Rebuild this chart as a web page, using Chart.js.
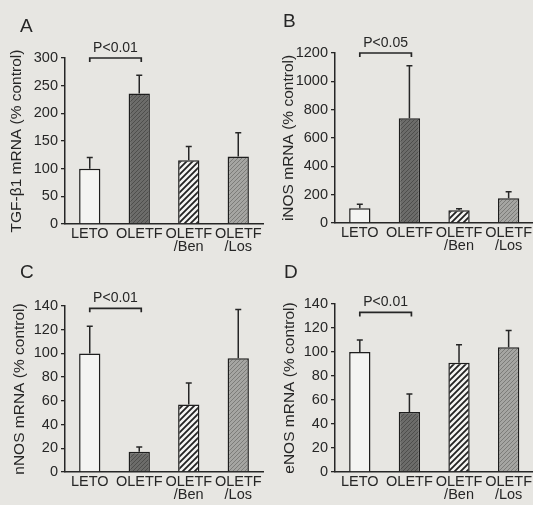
<!DOCTYPE html>
<html>
<head>
<meta charset="utf-8">
<script src="https://cdn.jsdelivr.net/npm/chart.js@4.4.1/dist/chart.umd.min.js"></script>
<style>
  html, body { margin:0; padding:0; background:#e7e6e2; overflow:hidden; }
  #wrap { position:relative; width:533px; height:505px; overflow:hidden; background:#e7e6e2; }
  canvas { position:absolute; }
</style>
</head>
<body>
<div id="wrap">
  <canvas id="cA" width="266" height="252" style="left:0;top:0;width:266px;height:252px"></canvas>
  <canvas id="cB" width="270" height="252" style="left:266px;top:0;width:270px;height:252px"></canvas>
  <canvas id="cC" width="266" height="253" style="left:0;top:252px;width:266px;height:253px"></canvas>
  <canvas id="cD" width="270" height="253" style="left:266px;top:252px;width:270px;height:253px"></canvas>
</div>
<script>
// ---------- data ----------
const categories = ['LETO', 'OLETF', ['OLETF', '/Ben'], ['OLETF', '/Los']];

const tgfMean  = [100, 236, 115, 122];
const tgfSem   = [20, 33, 25, 43];
const inosMean = [105, 740, 90, 175];
const inosSem  = [27, 370, 10, 45];
const nnosMean = [100, 17, 57, 96];
const nnosSem  = [23, 4, 18, 41];
const enosMean = [100, 50, 91, 104];
const enosSem  = [10, 15, 15, 14];

const panelLabels = ['A', 'B', 'C', 'D'];
const yTitles = ['TGF-β1 mRNA (% control)', 'iNOS mRNA (% control)', 'nNOS mRNA (% control)', 'eNOS mRNA (% control)'];
const pTexts = ['P<0.01', 'P<0.05', 'P<0.01', 'P<0.01'];
const yMax = [300, 1200, 140, 140];
const yStep = [50, 200, 20, 20];
const bracketLevel = [300, 1200, 138, 133];

// ---------- styles ----------
const ink = '#262626';
const FONT = "'Liberation Sans', Arial, Helvetica, sans-serif";
Chart.defaults.font.family = FONT;
Chart.defaults.color = ink;

function hatch(bg, line, size, lw) {
  const c = document.createElement('canvas');
  c.width = size; c.height = size;
  const g = c.getContext('2d');
  g.fillStyle = bg; g.fillRect(0, 0, size, size);
  g.strokeStyle = line; g.lineWidth = lw;
  g.beginPath();
  g.moveTo(-1, size + 1); g.lineTo(size + 1, -1);
  g.moveTo(-1, 1); g.lineTo(1, -1);
  g.moveTo(size - 1, size + 1); g.lineTo(size + 1, size - 1);
  g.stroke();
  return g.createPattern(c, 'repeat');
}
const fills = [
  '#f4f4f2',
  hatch('#6c6c6a', '#4e4e4c', 4, 1),
  hatch('#f4f4f2', '#222222', 6, 1.8),
  hatch('#a5a5a2', '#7c7c79', 4, 1)
];

const annot = {
  id: 'annot',
  afterDatasetsDraw(chart, args, o) {
    const ctx = chart.ctx;
    const meta = chart.getDatasetMeta(0);
    const ys = chart.scales.y;
    ctx.save();
    ctx.strokeStyle = ink; ctx.lineWidth = 1.5; ctx.lineCap = 'butt';
    meta.data.forEach((bar, i) => {
      const top = ys.getPixelForValue(o.mean[i] + o.sem[i]);
      ctx.beginPath();
      ctx.moveTo(bar.x, bar.y); ctx.lineTo(bar.x, top);
      ctx.moveTo(bar.x - 3, top); ctx.lineTo(bar.x + 3, top);
      ctx.stroke();
    });
    const x0 = meta.data[0].x, x1 = meta.data[1].x + 2;
    const by = ys.getPixelForValue(o.bracketAt);
    ctx.lineWidth = 1.7;
    ctx.beginPath();
    ctx.moveTo(x0, by + 4); ctx.lineTo(x0, by); ctx.lineTo(x1, by); ctx.lineTo(x1, by + 4);
    ctx.stroke();
    ctx.fillStyle = ink;
    ctx.font = '14px ' + FONT;
    ctx.textAlign = 'center'; ctx.textBaseline = 'bottom';
    ctx.fillText(o.pText, (x0 + x1) / 2, by - 3);
    ctx.font = '19px ' + FONT;
    ctx.textAlign = 'left'; ctx.textBaseline = 'alphabetic';
    ctx.fillText(o.label, o.labelX, o.labelY);
    ctx.restore();
  }
};

function makeChart(id, k, mean, sem, lay) {
  return new Chart(document.getElementById(id), {
    type: 'bar',
    data: {
      labels: categories,
      datasets: [{
        data: mean,
        backgroundColor: fills,
        borderColor: '#1e1e1e',
        borderWidth: 1.5,
        categoryPercentage: 1,
        barPercentage: 0.43
      }]
    },
    plugins: [annot],
    options: {
      responsive: false,
      animation: false,
      devicePixelRatio: 1,
      layout: { padding: { top: lay.top, left: 0, right: lay.right, bottom: 0 } },
      plugins: {
        legend: { display: false },
        tooltip: { enabled: false },
        annot: {
          mean: mean, sem: sem, bracketAt: bracketLevel[k], pText: pTexts[k],
          label: panelLabels[k], labelX: lay.lx, labelY: lay.ly
        }
      },
      scales: {
        x: {
          grid: { display: false, drawTicks: false },
          border: { display: true, color: ink, width: 1.5 },
          ticks: { autoSkip: false, maxRotation: 0, minRotation: 0, padding: 4,
                   font: { size: 14.5, lineHeight: 0.88 }, color: ink },
          afterFit(s) { s.height = lay.xh; }
        },
        y: {
          min: 0, max: yMax[k],
          grid: { display: true, drawOnChartArea: false, drawTicks: true, tickLength: 4,
                  color: ink, lineWidth: 1.3 },
          border: { display: true, color: ink, width: 1.5 },
          ticks: { stepSize: yStep[k], padding: 3, font: { size: 14.5 }, color: ink,
                   callback: (v) => String(v) },
          title: { display: true, text: yTitles[k], font: { size: 15.5 }, color: ink,
                   padding: { top: lay.tp, bottom: 0 } },
          afterFit(s) { s.width = lay.yw; }
        }
      }
    }
  });
}

makeChart('cA', 0, tgfMean, tgfSem,   { top: 58, right: 3, xh: 28, yw: 65, tp: 7.7, lx: 20, ly: 32 });
makeChart('cB', 1, inosMean, inosSem, { top: 53, right: 0, xh: 29, yw: 69, tp: 13.5, lx: 17, ly: 27 });
makeChart('cC', 2, nnosMean, nnosSem, { top: 54, right: 3, xh: 33, yw: 65, tp: 10.7, lx: 20, ly: 26 });
makeChart('cD', 3, enosMean, enosSem, { top: 52, right: 0, xh: 33, yw: 69, tp: 14.5, lx: 18, ly: 26 });
</script>
</body>
</html>
